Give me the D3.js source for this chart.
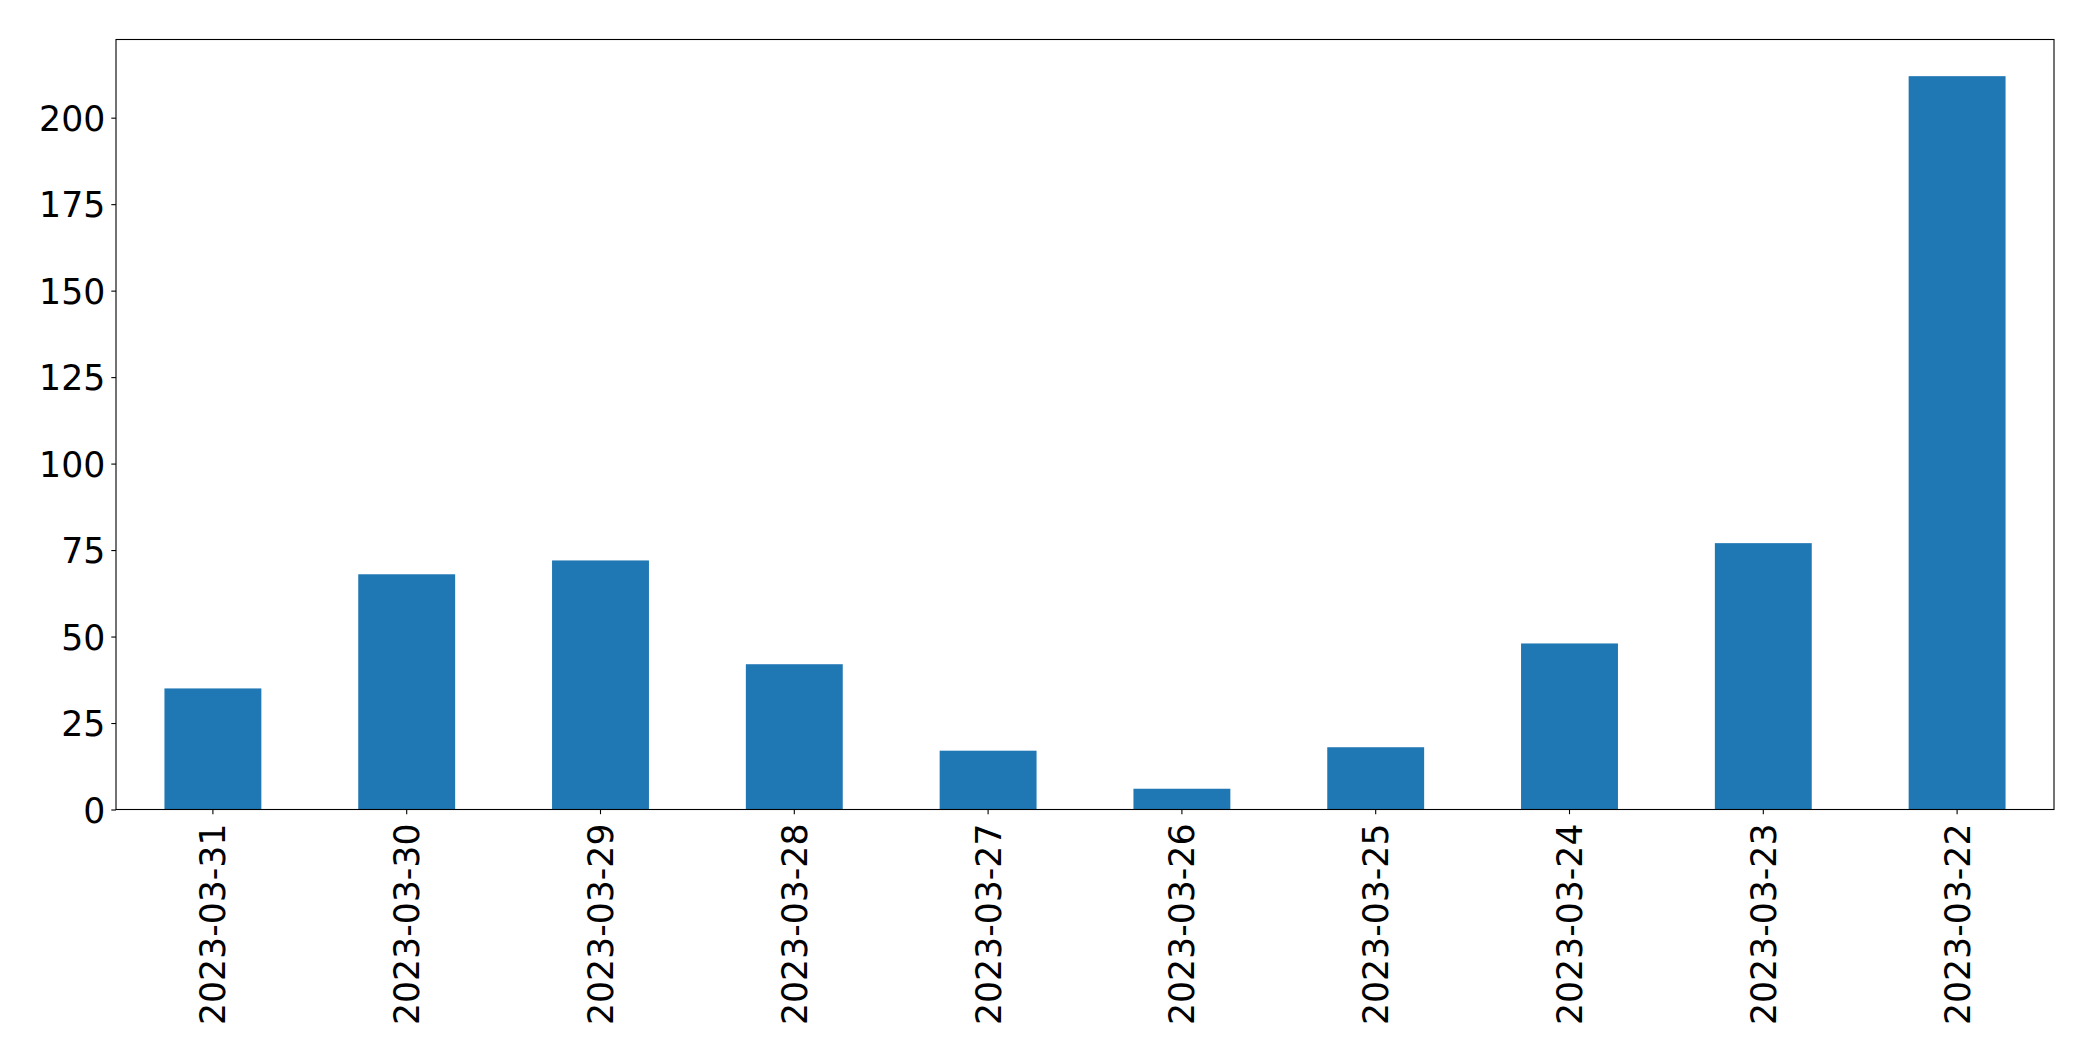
<!DOCTYPE html>
<html><head><meta charset="utf-8">
<script src="https://cdn.jsdelivr.net/npm/d3@7"></script>
<style>html,body{margin:0;padding:0;background:#fff;}svg{display:block;}</style>
</head><body>
<script>
const categories = ["2023-03-31","2023-03-30","2023-03-29","2023-03-28","2023-03-27","2023-03-26","2023-03-25","2023-03-24","2023-03-23","2023-03-22"];
const values = [35, 68, 72, 42, 17, 6, 18, 48, 77, 212];
const yTicks = [0, 25, 50, 75, 100, 125, 150, 175, 200];

const W = 2093, H = 1061;
const mLeft = 116, mRight = 2054, mTop = 39.5, mBottom = 809.5;
const fs = 34.7;

const svg = d3.select("body").append("svg").attr("width", W).attr("height", H);

const x = d3.scaleBand().domain(categories).range([mLeft, mRight]).paddingInner(0.5).paddingOuter(0.25);
const y = d3.scaleLinear().domain([0, d3.max(values) * 1.05]).range([mBottom, mTop]);

svg.append("g").selectAll("rect").data(values).join("rect")
  .attr("x", (d, i) => x(categories[i]))
  .attr("width", x.bandwidth())
  .attr("y", d => y(d))
  .attr("height", d => y(0) - y(d))
  .attr("fill", "#1f77b4");

// y axis
const ya = svg.append("g").attr("transform", `translate(${mLeft},0)`)
  .call(d3.axisLeft(y).tickValues(yTicks).tickSize(4.7).tickPadding(6).tickFormat(d3.format("d")));
ya.select(".domain").remove();
ya.selectAll("line").attr("stroke", "#000").attr("stroke-width", 1.1);
ya.selectAll("text").attr("font-family", "DejaVu Sans").attr("font-size", fs).attr("fill", "#000").attr("dy", "0.36em");

// x axis
const xa = svg.append("g").attr("transform", `translate(0,${mBottom})`)
  .call(d3.axisBottom(x).tickSize(4.7).tickPadding(0));
xa.select(".domain").remove();
xa.selectAll("line").attr("stroke", "#000").attr("stroke-width", 1.1);
xa.selectAll("text")
  .attr("font-family", "DejaVu Sans").attr("font-size", fs).attr("fill", "#000")
  .attr("text-anchor", "end")
  .attr("x", null).attr("y", null).attr("dy", null)
  .attr("transform", `translate(${0.36 * fs},14) rotate(-90)`);

// frame
svg.append("rect").attr("x", mLeft).attr("y", mTop).attr("width", mRight - mLeft).attr("height", mBottom - mTop)
  .attr("fill", "none").attr("stroke", "#000").attr("stroke-width", 1.1);
</script>
</body></html>
